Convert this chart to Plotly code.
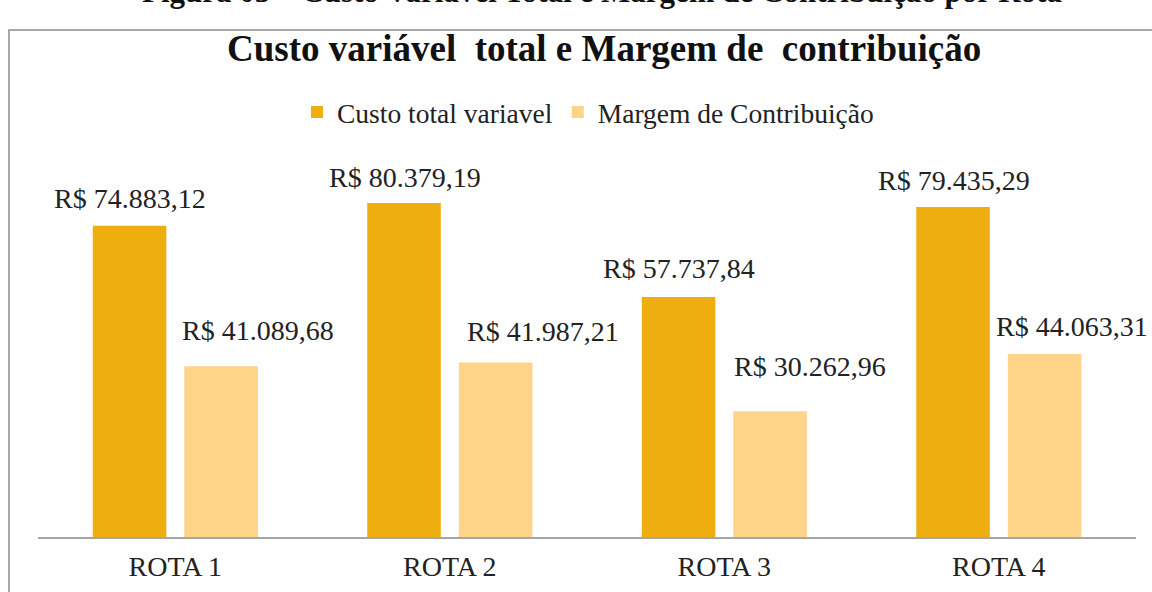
import plotly.graph_objects as go

categories = ["ROTA 1", "ROTA 2", "ROTA 3", "ROTA 4"]
custo_total = [74883.12, 80379.19, 57737.84, 79435.29]
margem = [41089.68, 41987.21, 30262.96, 44063.31]
series_names = ["Custo total variavel", "Margem de Contribuição"]
title_text = "Custo variável  total e Margem de  contribuição"
caption_text = "Figura 03 – Custo Variável Total e Margem de Contribuição por Rota"

def brl(v):
    s = f"{v:,.2f}"
    s = s.replace(",", "X").replace(".", ",").replace("X", ".")
    return "R$ " + s

W, H = 1152, 592
ML, MR, MT, MB = 38, 16, 163, 55
PW = W - ML - MR
PH = H - MT - MB
def px_x(p): return (p - ML) / PW
def px_y(p): return (H - MB - p) / PH

FONT = "Liberation Serif"
DARK = "#EEAE10"
LIGHT = "#FDD488"

fig = go.Figure()
fig.add_trace(go.Bar(x=categories, y=custo_total, name=series_names[0],
                     marker=dict(color=DARK, line=dict(width=0)),
                     width=0.268, offset=-0.3005))
fig.add_trace(go.Bar(x=categories, y=margem, name=series_names[1],
                     marker=dict(color=LIGHT, line=dict(width=0)),
                     width=0.268, offset=0.033))

dark_xshift = [-45, -45, -45, -45]
dark_yshift = [10, 8, 11, 9]
light_xshift = [83, 93, 86, 73]
light_yshift = [18, 14, 27, 10]

annotations = []
for i, c in enumerate(categories):
    annotations.append(dict(x=c, y=custo_total[i], xref="x", yref="y", text=brl(custo_total[i]),
                            showarrow=False, xanchor="center", yanchor="bottom",
                            xshift=dark_xshift[i], yshift=dark_yshift[i],
                            font=dict(family=FONT, size=28, color="#222222")))
    annotations.append(dict(x=c, y=margem[i], xref="x", yref="y", text=brl(margem[i]),
                            showarrow=False, xanchor="center", yanchor="bottom",
                            xshift=light_xshift[i], yshift=light_yshift[i],
                            font=dict(family=FONT, size=28, color="#222222")))

annotations.append(dict(x=px_x(602), y=px_y(-8), xref="paper", yref="paper", text="<b>" + caption_text + "</b>",
                        showarrow=False, xanchor="center", yanchor="middle",
                        font=dict(family=FONT, size=31, color="#111111")))
annotations.append(dict(x=px_x(604), y=px_y(49), xref="paper", yref="paper", text="<b>" + title_text + "</b>",
                        showarrow=False, xanchor="center", yanchor="middle",
                        font=dict(family=FONT, size=37, color="#111111")))

fig.update_layout(
    width=W, height=H,
    margin=dict(l=ML, r=MR, t=MT, b=MB),
    paper_bgcolor="white", plot_bgcolor="white",
    barmode="group",
    showlegend=True,
    legend=dict(orientation="h", x=px_x(588), xanchor="center", y=px_y(112), yanchor="middle",
                font=dict(family=FONT, size=27.5, color="#222222"), itemclick=False,
                bgcolor="rgba(0,0,0,0)"),
    annotations=annotations,
    shapes=[dict(type="rect", xref="paper", yref="paper",
                 x0=px_x(9), x1=px_x(1160), y0=px_y(600), y1=px_y(30),
                 line=dict(color="#8C8C8C", width=1.5), fillcolor="rgba(0,0,0,0)", layer="below")],
    xaxis=dict(showline=True, linecolor="#A6A6A6", linewidth=2, ticks="", showgrid=False,
               automargin=False, range=[-0.5, 3.5],
               tickfont=dict(family=FONT, size=28, color="#222222"), ticklabelstandoff=3),
    yaxis=dict(range=[0, 90000], visible=False, showgrid=False, automargin=False),
    font=dict(family=FONT),
)

fig.write_html("out.html")
